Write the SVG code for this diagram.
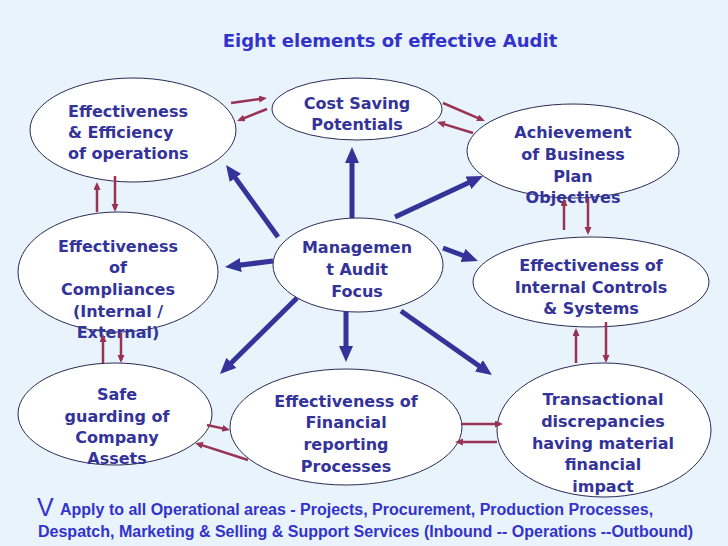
<svg xmlns="http://www.w3.org/2000/svg" width="728" height="546" viewBox="0 0 728 546">
<style>
.bg{fill:#E9F3FC}
.node ellipse{fill:#FFFFFF;stroke:#2B2B55;stroke-width:1}
.node text{font-family:"DejaVu Sans",sans-serif;font-weight:bold;font-size:16px;fill:#333399;text-anchor:middle}
.title{font-family:"DejaVu Sans",sans-serif;font-weight:bold;font-size:18px;fill:#3333CC;text-anchor:middle}
.foot{font-family:"Liberation Sans",Arial,sans-serif;font-weight:bold;font-size:16px;fill:#3333CC}
.blue{stroke:#333399;stroke-width:5;fill:none;marker-end:url(#bh)}
.red{stroke:#993355;stroke-width:2.5;fill:none;marker-end:url(#rh)}
</style>
<defs>
<marker id="bh" markerUnits="userSpaceOnUse" markerWidth="18" markerHeight="16" refX="6" refY="7" orient="auto">
<path d="M0,0 L16,7 L0,14 z" fill="#333399"/>
</marker>
<marker id="rh" markerUnits="userSpaceOnUse" markerWidth="10" markerHeight="8" refX="5" refY="3.5" orient="auto">
<path d="M0,0 L8,3.5 L0,7 z" fill="#993355"/>
</marker>
</defs>
<rect class="bg" x="0" y="0" width="728" height="546"/>
<text class="title" x="390" y="47">Eight elements of effective Audit</text>

<g id="node-efficiency" class="node">
<ellipse cx="133" cy="130" rx="103" ry="52"/>
<text x="68" y="117" style="text-anchor:start">Effectiveness</text>
<text x="68" y="138" style="text-anchor:start">&amp; Efficiency</text>
<text x="68" y="159" style="text-anchor:start">of operations</text>
</g>
<g id="node-cost" class="node">
<ellipse cx="357" cy="109" rx="85" ry="31"/>
<text x="357" y="109">Cost Saving</text>
<text x="357" y="130">Potentials</text>
</g>
<g id="node-business" class="node">
<ellipse cx="573" cy="151" rx="106" ry="47"/>
<text x="573" y="138">Achievement</text>
<text x="573" y="160">of Business</text>
<text x="573" y="182">Plan</text>
<text x="573" y="203">Objectives</text>
</g>
<g id="node-compliances" class="node">
<ellipse cx="118" cy="272" rx="100" ry="60"/>
<text x="118" y="252">Effectiveness</text>
<text x="118" y="273">of</text>
<text x="118" y="295">Compliances</text>
<text x="118" y="317">(Internal /</text>
<text x="118" y="338">External)</text>
</g>
<g id="node-focus" class="node">
<ellipse cx="358" cy="265" rx="85" ry="47"/>
<text x="357" y="253">Managemen</text>
<text x="357" y="275">t Audit</text>
<text x="357" y="297">Focus</text>
</g>
<g id="node-controls" class="node">
<ellipse cx="591" cy="282" rx="118" ry="45"/>
<text x="591" y="271">Effectiveness of</text>
<text x="591" y="293">Internal Controls</text>
<text x="591" y="314">&amp; Systems</text>
</g>
<g id="node-assets" class="node">
<ellipse cx="115" cy="414" rx="97" ry="51"/>
<text x="117" y="400">Safe</text>
<text x="117" y="422">guarding of</text>
<text x="117" y="443">Company</text>
<text x="117" y="464">Assets</text>
</g>
<g id="node-financial" class="node">
<ellipse cx="346" cy="427" rx="116" ry="58"/>
<text x="346" y="407">Effectiveness of</text>
<text x="346" y="428">Financial</text>
<text x="346" y="450">reporting</text>
<text x="346" y="472">Processes</text>
</g>
<g id="node-transactional" class="node">
<ellipse cx="604" cy="430" rx="107" ry="67"/>
<text x="603" y="405">Transactional</text>
<text x="603" y="427">discrepancies</text>
<text x="603" y="449">having material</text>
<text x="603" y="470">financial</text>
<text x="603" y="492">impact</text>
</g>

<g id="connectors">
<line class="blue" x1="352" y1="218" x2="352" y2="157"/>
<line class="blue" x1="278" y1="237" x2="231.9" y2="173.1"/>
<line class="blue" x1="395" y1="217" x2="473.9" y2="180.2"/>
<line class="blue" x1="443" y1="248" x2="468.6" y2="257.5"/>
<line class="blue" x1="273" y1="261" x2="234.9" y2="265.8"/>
<line class="blue" x1="297" y1="298" x2="227.1" y2="367"/>
<line class="blue" x1="346" y1="311" x2="346" y2="352"/>
<line class="blue" x1="401" y1="311" x2="483.8" y2="369.3"/>

<line class="red" x1="231" y1="103" x2="264" y2="98.4"/>
<line class="red" x1="267" y1="109" x2="239.8" y2="119.9"/>
<line class="red" x1="443" y1="103" x2="482.2" y2="119.8"/>
<line class="red" x1="473" y1="133" x2="439.9" y2="122.9"/>
<line class="red" x1="97" y1="212" x2="97" y2="185"/>
<line class="red" x1="115" y1="176" x2="115" y2="209"/>
<line class="red" x1="103" y1="363" x2="103" y2="337"/>
<line class="red" x1="121" y1="333" x2="121" y2="360"/>
<line class="red" x1="564" y1="230" x2="564" y2="201"/>
<line class="red" x1="588" y1="198" x2="588" y2="232"/>
<line class="red" x1="576" y1="363" x2="576" y2="331"/>
<line class="red" x1="606" y1="322" x2="606" y2="360"/>
<line class="red" x1="207" y1="425" x2="227.1" y2="429.4"/>
<line class="red" x1="248" y1="460" x2="197.9" y2="443.9"/>
<line class="red" x1="461" y1="424" x2="500" y2="424"/>
<line class="red" x1="497" y1="442" x2="458" y2="442"/>
</g>

<text x="37" y="516" style="font-family:'Liberation Sans',Arial,sans-serif;font-size:25px;fill:#3333CC">V</text>
<text class="foot" x="60" y="515">Apply to all Operational areas - Projects, Procurement, Production Processes,</text>
<text class="foot" x="38" y="537">Despatch, Marketing &amp; Selling &amp; Support Services (Inbound -- Operations --Outbound)</text>
</svg>
